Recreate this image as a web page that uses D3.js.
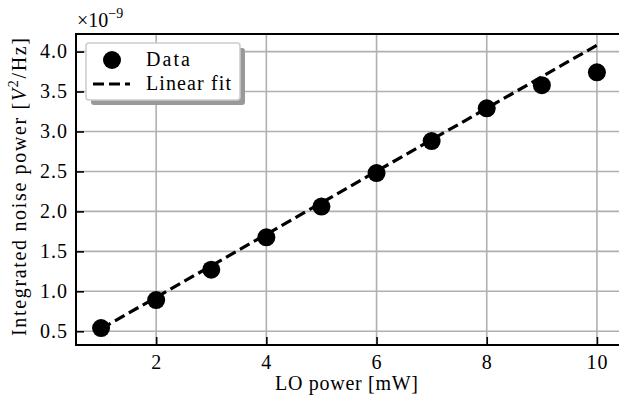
<!DOCTYPE html>
<html>
<head>
<meta charset="utf-8">
<script src="https://cdn.jsdelivr.net/npm/d3@7"></script>
<style>
  body { margin: 0; background: #fff; }
  text { font-family: "Liberation Serif", serif; fill: #000; }
</style>
</head>
<body>
<svg id="svg_main" width="619" height="401"></svg>
<script>
// LO power [mW] and integrated noise power [1e-9 V^2/Hz]
const loPower = [1, 2, 3, 4, 5, 6, 7, 8, 9, 10];
const noisePower = [0.54, 0.89, 1.27, 1.675, 2.06, 2.48, 2.88, 3.29, 3.58, 3.74];
const fitX = [1, 10];
const fitY = [0.53, 4.08];
const xTicks = [2, 4, 6, 8, 10];
const yTicks = [0.5, 1.0, 1.5, 2.0, 2.5, 3.0, 3.5, 4.0];

const width = 619, height = 401;
const margin = {left: 76, top: 34, right: -3, bottom: 56};
const fs = 20;

const svg = d3.select('#svg_main');

const x = d3.scaleLinear().domain([0.545, 10.455]).range([margin.left, width - margin.right]);
const y = d3.scaleLinear().domain([0.328, 4.22]).range([height - margin.bottom, margin.top]);

// grid
const grid = svg.append('g').attr('stroke', '#b0b0b0').attr('stroke-width', 1.6);
grid.selectAll('line.gx').data(xTicks).join('line')
    .attr('x1', d => x(d)).attr('x2', d => x(d))
    .attr('y1', y.range()[0]).attr('y2', y.range()[1]);
grid.selectAll('line.gy').data(yTicks).join('line')
    .attr('y1', d => y(d)).attr('y2', d => y(d))
    .attr('x1', x.range()[0]).attr('x2', x.range()[1]);

// fit line
svg.append('path')
    .attr('d', d3.line().x((d, i) => x(d)).y((d, i) => y(fitY[i]))(fitX))
    .attr('fill', 'none')
    .attr('stroke', '#000')
    .attr('stroke-width', 3.2)
    .attr('stroke-dasharray', '11,5');

// data points
svg.append('g').selectAll('circle').data(loPower).join('circle')
    .attr('cx', d => x(d))
    .attr('cy', (d, i) => y(noisePower[i]))
    .attr('r', 9)
    .attr('fill', '#000');

// axes, ticks inward
const xAxis = svg.append('g')
    .attr('transform', `translate(0,${y.range()[0]})`)
    .call(d3.axisBottom(x).tickValues(xTicks).tickSizeInner(-8).tickSizeOuter(0).tickPadding(10).tickFormat(d3.format('d')));
const yAxis = svg.append('g')
    .attr('transform', `translate(${x.range()[0]},0)`)
    .call(d3.axisLeft(y).tickValues(yTicks).tickSizeInner(-8).tickSizeOuter(0).tickPadding(8).tickFormat(d3.format('.1f')));
[xAxis, yAxis].forEach(a => {
    a.select('.domain').remove();
    a.selectAll('.tick line').attr('stroke', '#000').attr('stroke-width', 1.6);
    a.selectAll('.tick text').attr('font-size', fs).attr('font-family', '"Liberation Serif", serif')
        .attr('letter-spacing', 1);
});
xAxis.selectAll('.tick text').attr('dy', '0.71em');

// spines
svg.append('rect')
    .attr('x', x.range()[0]).attr('y', y.range()[1])
    .attr('width', x.range()[1] - x.range()[0])
    .attr('height', y.range()[0] - y.range()[1])
    .attr('fill', 'none').attr('stroke', '#000').attr('stroke-width', 2);

// labels
svg.append('text')
    .attr('x', 275)
    .attr('y', 390)
    .attr('font-size', fs)
    .attr('textLength', 143)
    .attr('lengthAdjust', 'spacing')
    .text('LO power [mW]');

const yl = svg.append('text')
    .attr('transform', `translate(26,336) rotate(-90)`)
    .attr('font-size', fs)
    .attr('textLength', 298)
    .attr('lengthAdjust', 'spacing');
yl.append('tspan').text('Integrated noise power [');
yl.append('tspan').attr('font-style', 'italic').text('V');
yl.append('tspan').attr('font-size', 14).attr('dy', -8).text('2');
yl.append('tspan').attr('dy', 8).text('/Hz]');

const ex = svg.append('text').attr('x', 77).attr('y', 27).attr('font-size', fs);
ex.append('tspan').text('×10');
ex.append('tspan').attr('font-size', 14).attr('dy', -9).text('−9');

// legend
const lg = svg.append('g');
lg.append('rect').attr('x', 91).attr('y', 48).attr('width', 154).attr('height', 57)
    .attr('rx', 3).attr('fill', '#999');
lg.append('rect').attr('x', 86).attr('y', 43).attr('width', 154).attr('height', 57)
    .attr('rx', 3).attr('fill', '#fff').attr('stroke', '#ccc').attr('stroke-width', 1.5);
lg.append('circle').attr('cx', 112).attr('cy', 60).attr('r', 9).attr('fill', '#000');
lg.append('line').attr('x1', 93).attr('x2', 130).attr('y1', 84).attr('y2', 84)
    .attr('stroke', '#000').attr('stroke-width', 3.2).attr('stroke-dasharray', '11,5');
lg.append('text').attr('x', 146).attr('y', 66).attr('font-size', fs).attr('textLength', 44).text('Data');
lg.append('text').attr('x', 146).attr('y', 90).attr('font-size', fs).attr('textLength', 85).text('Linear fit');
</script>
</body>
</html>
